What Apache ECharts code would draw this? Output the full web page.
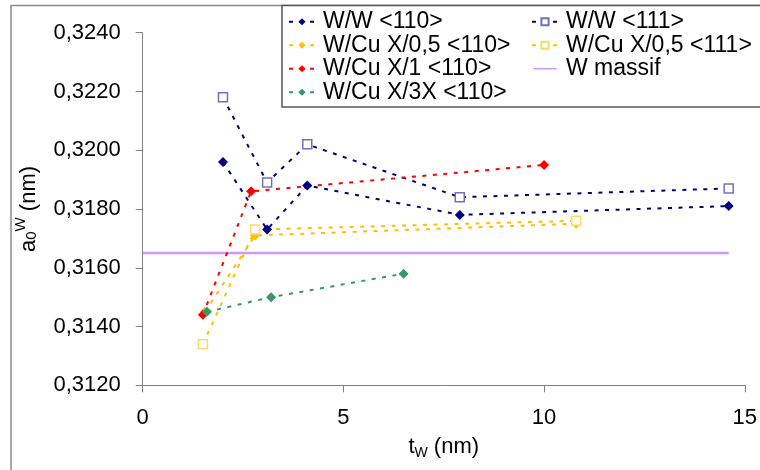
<!DOCTYPE html>
<html>
<head>
<meta charset="utf-8">
<script src="https://cdn.jsdelivr.net/npm/echarts@6/dist/echarts.min.js"></script>
<style>html,body{margin:0;padding:0;background:#fff}#c{width:760px;height:470px}</style>
</head>
<body>
<div id="c"></div>
<script>
// ---- data ----
const names = ['W/W <110>', 'W/W <111>', 'W/Cu X/0,5 <110>', 'W/Cu X/0,5 <111>', 'W/Cu X/1 <110>', 'W massif', 'W/Cu X/3X <110>'];
const ww110   = [[2.0, 0.3196], [3.1, 0.3173], [4.1, 0.3188], [7.9, 0.3178], [14.6, 0.3181]];
const ww111   = [[2.0, 0.3218], [3.1, 0.3189], [4.1, 0.3202], [7.9, 0.3184], [14.6, 0.3187]];
const cu05110 = [[1.55, 0.3145], [2.8, 0.3171], [10.8, 0.3175]];
const cu05111 = [[1.5, 0.3134], [2.8, 0.3173], [10.8, 0.3176]];
const cu1110  = [[1.5, 0.3144], [2.7, 0.3186], [10.0, 0.3195]];
const cu3x110 = [[1.6, 0.3145], [3.2, 0.3150], [6.5, 0.3158]];
const massif  = [[0, 0.3165], [14.6, 0.3165]];
const xMin = 0, xMax = 15, xStep = 5;
const yMin = 0.312, yMax = 0.324, yStep = 0.002;

const FONT = '"Liberation Sans", Arial, sans-serif';
const dash = [4, 6.5];
// thin horizontal bar icon (invisible specks keep the bounding box tall so the bar stays thin)
const flatLineIcon = 'path://M0,0h0.01v0.01h-0.01z M0,4.1h26v1.8h-26z M0,9.99h0.01v0.01h-0.01z';

function lineSeries(name, data, color, symbol, opts) {
  const s = {
    name: name, type: 'line', data: data,
    symbol: symbol, symbolSize: 10,
    lineStyle: { color: color, width: 2, type: dash },
    itemStyle: { color: color },
    animation: false, z: 3
  };
  return Object.assign(s, opts || {});
}

const chart = echarts.init(document.getElementById('c'), null, { renderer: 'canvas' });
const legendText = { fontFamily: FONT, fontSize: 23, color: '#000', lineHeight: 23.5, padding: [0, 0, 0, 3] };
const option = {
  backgroundColor: '#ffffff',
  animation: false,
  grid: { left: 142.7, right: 14, top: 32.7, bottom: 84.7, containLabel: false },
  xAxis: {
    type: 'value', min: xMin, max: xMax, interval: xStep,
    axisLine: { show: true, onZero: false, lineStyle: { color: '#808080', width: 1 } },
    axisTick: { show: true, inside: false, length: 7, lineStyle: { color: '#808080' } },
    axisLabel: { color: '#000', fontFamily: FONT, fontSize: 22, margin: 22 },
    splitLine: { show: false },
    name: '{a|t}{s|W}{a| (nm)}', nameLocation: 'middle', nameGap: 49,
    nameTextStyle: {
      rich: {
        a: { fontFamily: FONT, fontSize: 22, color: '#000', lineHeight: 26, verticalAlign: 'middle' },
        s: { fontFamily: FONT, fontSize: 14, color: '#000', lineHeight: 26, verticalAlign: 'bottom' }
      }
    }
  },
  yAxis: {
    type: 'value', min: yMin, max: yMax, interval: yStep,
    axisLine: { show: true, onZero: false, lineStyle: { color: '#808080', width: 1 } },
    axisTick: { show: true, inside: false, length: 7, lineStyle: { color: '#808080' } },
    axisLabel: {
      color: '#000', fontFamily: FONT, fontSize: 22, margin: 22,
      formatter: function (v) { return v.toFixed(4).replace('.', ','); }
    },
    splitLine: { show: false },
    name: '{a|a}{s|0}{p|W}{a| (nm)}', nameLocation: 'middle', nameGap: 99, nameRotate: 90,
    nameTextStyle: {
      rich: {
        a: { fontFamily: FONT, fontSize: 22, color: '#000', lineHeight: 30, verticalAlign: 'middle' },
        s: { fontFamily: FONT, fontSize: 15, color: '#000', lineHeight: 30, verticalAlign: 'middle', padding: [6, 0, 0, 0] },
        p: { fontFamily: FONT, fontSize: 15, color: '#000', lineHeight: 30, verticalAlign: 'top' }
      }
    }
  },
  legend: [
    {
      data: [names[0], names[2], names[4], names[6]],
      orient: 'vertical', left: 288, top: 10, padding: 0, itemGap: 0,
      itemWidth: 26, itemHeight: 9,
      textStyle: legendText
    },
    {
      data: [names[1], names[3], { name: names[5], icon: flatLineIcon, itemStyle: { color: '#cc99ff' } }],
      orient: 'vertical', left: 531, top: 10, padding: 0, itemGap: 0,
      itemWidth: 26, itemHeight: 9,
      textStyle: legendText
    }
  ],
  graphic: [
    { type: 'rect', shape: { x: 11, y: 5.5, width: 800, height: 500 }, style: { fill: 'none', stroke: '#8c8c8c', lineWidth: 1.5 }, z: 0, silent: true },
    { type: 'rect', shape: { x: 282, y: 5.5, width: 500, height: 101.5 }, style: { fill: '#fff', stroke: '#555', lineWidth: 1.5 }, z: 1, silent: true }
  ],
  series: [
    lineSeries(names[0], ww110, '#000080', 'diamond'),
    lineSeries(names[1], ww111, '#000080', 'rect', { symbolSize: 9, itemStyle: { color: '#fff', borderColor: '#7070c0', borderWidth: 1.5 } }),
    lineSeries(names[2], cu05110, '#ffc000', 'diamond'),
    lineSeries(names[3], cu05111, '#ffc000', 'rect', { symbolSize: 9, itemStyle: { color: '#fff', borderColor: '#ffd966', borderWidth: 1.5 } }),
    lineSeries(names[4], cu1110, '#ff0000', 'diamond'),
    { name: names[5], type: 'line', data: massif, symbol: 'none', z: 2,
      lineStyle: { color: '#cc99ff', width: 2.5, type: 'solid' }, itemStyle: { color: '#cc99ff' }, animation: false },
    lineSeries(names[6], cu3x110, '#339966', 'diamond')
  ]
};
chart.setOption(option);
</script>
</body>
</html>
